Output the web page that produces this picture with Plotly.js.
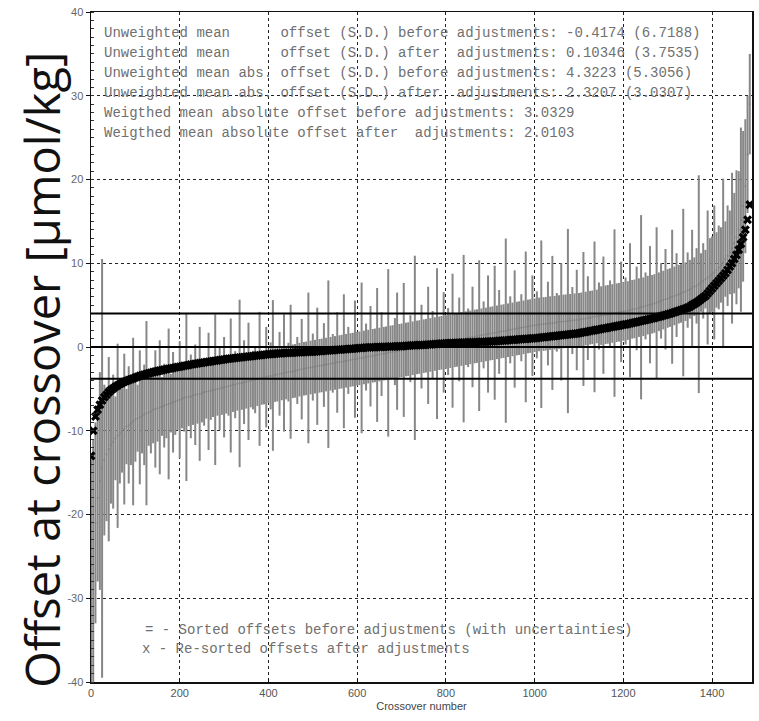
<!DOCTYPE html>
<html>
<head>
<meta charset="utf-8">
<script src="https://cdn.plot.ly/plotly-3.0.1.min.js"></script>
<style>html,body{margin:0;padding:0;background:#fff;}#chart{width:759px;height:721px;}</style>
</head>
<body>
<div id="chart"></div>
<script>
// Crossover numbers are sampled every STEP crossovers (index axis)
const STEP = 5;

// Sorted offsets before adjustments (gray, with uncertainties)
const beforeOffsets = [
  -33,-26,-21,-18,-16,-14.5,-13.5,-12.8,-12.2,-11.7,-11.3,-10.9,-10.6,-10.3,-10.0,-9.8,-9.5,-9.3,-9.1,-8.9,-8.7,
  -8.5,-8.4,-8.2,-8.1,-7.9,-7.8,-7.7,-7.5,-7.4,-7.3,
  -7.2,-7.1,-7.0,-6.9,-6.8,-6.7,-6.6,-6.5,-6.4,-6.3,
  -6.2,-6.1,-6.0,-5.95,-5.9,-5.8,-5.7,-5.65,-5.6,-5.5,
  -5.4,-5.35,-5.3,-5.2,-5.15,-5.1,-5.0,-4.95,-4.9,-4.8,
  -4.75,-4.7,-4.6,-4.55,-4.5,-4.4,-4.35,-4.3,-4.2,-4.15,
  -4.1,-4.0,-3.95,-3.9,-3.85,-3.8,-3.7,-3.65,-3.6,-3.5,
  -3.45,-3.4,-3.35,-3.3,-3.2,-3.15,-3.1,-3.05,-3.0,-2.95,
  -2.9,-2.85,-2.8,-2.7,-2.65,-2.6,-2.55,-2.5,-2.45,-2.4,
  -2.35,-2.3,-2.25,-2.2,-2.15,-2.1,-2.05,-2.0,-1.95,-1.9,
  -1.85,-1.8,-1.75,-1.7,-1.65,-1.6,-1.55,-1.5,-1.45,-1.4,
  -1.35,-1.3,-1.25,-1.2,-1.15,-1.1,-1.05,-1.0,-0.95,-0.9,
  -0.85,-0.8,-0.75,-0.7,-0.65,-0.6,-0.55,-0.5,-0.45,-0.4,
  -0.35,-0.3,-0.25,-0.2,-0.15,-0.1,-0.05,0,0.05,0.1,
  0.15,0.2,0.25,0.3,0.35,0.4,0.45,0.5,0.55,0.6,
  0.65,0.7,0.75,0.8,0.85,0.9,0.95,1.0,1.05,1.1,
  1.15,1.2,1.25,1.3,1.35,1.4,1.45,1.5,1.55,1.6,
  1.65,1.7,1.75,1.8,1.85,1.9,1.95,2.0,2.05,2.1,
  2.15,2.2,2.25,2.3,2.35,2.4,2.45,2.5,2.55,2.6,
  2.65,2.7,2.72,2.75,2.78,2.8,2.85,2.88,2.9,2.95,
  2.98,3.0,3.05,3.08,3.1,3.13,3.16,3.2,3.22,3.25,
  3.3,3.35,3.4,3.45,3.5,3.55,3.6,3.65,3.7,3.75,
  3.8,3.85,3.9,3.95,4.0,4.05,4.1,4.15,4.2,4.25,
  4.3,4.35,4.4,4.5,4.55,4.6,4.7,4.75,4.8,4.9,
  5.0,5.05,5.1,5.2,5.3,5.4,5.5,5.6,5.7,5.8,
  5.9,6.0,6.1,6.2,6.3,6.4,6.5,6.6,6.8,6.9,
  7.0,7.2,7.3,7.5,7.7,7.9,8.1,8.3,8.5,8.7,
  8.9,9.2,9.5,9.8,10.1,10.5,10.9,11.3,11.8,12.4,
  13.1,14.0,15.2,16.8,19.2,23.0,29.0
];

// Uncertainties of the before-adjustment offsets
const uncertainties = [
  20,15,12,10,13,25,9,8,11,7,
  8,5,11,6,5,9,4.5,7,5,10,
  5,4,8,4.5,6,11,4,5,4,7,
  4,8,3.5,5,4,9,3.5,6,4,3.5,
  7,3.5,4,10,3.5,5,3.5,6,3.5,8,
  3.5,4,3.2,7,3.5,3.2,9,3.2,5,3.2,
  6,3.2,3.5,8,3.2,4,3.2,10,3.2,5,
  3.2,7,3.2,3.5,4,3.2,8,3.2,3.2,6,
  3.2,4,9,3.2,3.2,5,3.2,7,3.2,3.5,
  8,3.2,3.2,4,3.2,6,3.2,3.2,9,3.2,
  4,3.2,7,3.2,3.2,5,3.2,10,3.2,3.5,
  3.2,6,3.2,3.2,8,3.2,4,3.2,3.2,7,
  3.2,3.2,9,3.2,4,3.2,6,3.2,3.2,8,
  3.2,5,3.2,3.2,10,3.2,3.2,4,7,3.2,
  3.2,8,3.2,3.2,4,3.2,11,3.2,3.2,5,
  3.2,3.2,7,3.2,4,3.2,9,3.2,3.2,6,
  3.2,4,3.2,8,3.2,3.2,5,3.2,10,3.2,
  3.5,3.2,6,3.2,3.2,9,3.2,4,3.2,7,
  3.2,3.2,8,3.2,5,3.2,3.2,11,3.2,4,
  3.2,7,3.2,3.2,4,3.2,9,3.2,3.2,6,
  3.2,4,3.2,10,3.2,3.2,5,3.2,8,3.2,
  3.5,3.2,7,3.2,3.2,11,3.2,4,3.2,6,
  3.2,3.2,8,3.2,5,3.2,3.2,9,3.2,4,
  3.5,7,3.5,3.5,4,3.5,10,3.5,3.5,6,
  3.5,4,3.5,8,3.5,3.5,5,3.5,11,3.5,
  4,3.5,7,3.5,3.5,9,3.5,4.5,3.5,6,
  3.5,3.5,8,3.5,5,3.5,3.5,10,3.5,4.5,
  3.5,7,3.5,4.5,13,3.5,4.5,3.5,8,4.5,
  4.5,8,4.5,5,4.5,10,4.5,6,5,9,
  6,8,7,11,9,8,7,6
];

// Re-sorted offsets after adjustments (black x)
const afterOffsets = [
  -13,-10,-8.3,-7.5,-6.9,-6.4,-6.0,-5.7,-5.4,-5.15,-4.95,-4.75,-4.6,-4.45,-4.3,-4.15,-4.05,-3.95,-3.85,-3.75,-3.65,
  -3.55,-3.45,-3.37,-3.3,-3.22,-3.15,-3.08,-3.0,-2.94,-2.88,
  -2.82,-2.76,-2.7,-2.65,-2.6,-2.55,-2.5,-2.45,-2.4,-2.35,
  -2.3,-2.25,-2.2,-2.15,-2.1,-2.05,-2.0,-1.96,-1.92,-1.88,
  -1.84,-1.8,-1.76,-1.72,-1.68,-1.64,-1.6,-1.56,-1.52,-1.48,
  -1.44,-1.4,-1.37,-1.34,-1.31,-1.28,-1.25,-1.22,-1.19,-1.16,
  -1.13,-1.1,-1.07,-1.04,-1.01,-0.98,-0.95,-0.92,-0.89,-0.86,
  -0.84,-0.82,-0.8,-0.78,-0.76,-0.74,-0.72,-0.71,-0.7,-0.69,
  -0.67,-0.66,-0.64,-0.63,-0.61,-0.6,-0.59,-0.58,-0.57,-0.56,
  -0.54,-0.52,-0.5,-0.48,-0.46,-0.44,-0.42,-0.4,-0.38,-0.36,
  -0.34,-0.32,-0.3,-0.28,-0.26,-0.24,-0.22,-0.2,-0.18,-0.15,
  -0.13,-0.11,-0.09,-0.07,-0.05,-0.04,-0.03,-0.02,-0.01,0.0,
  0.01,0.02,0.03,0.04,0.05,0.06,0.07,0.08,0.09,0.1,
  0.12,0.14,0.16,0.18,0.2,0.21,0.22,0.23,0.24,0.25,
  0.27,0.29,0.31,0.33,0.35,0.37,0.39,0.41,0.43,0.45,
  0.46,0.47,0.48,0.49,0.5,0.51,0.52,0.53,0.54,0.55,
  0.56,0.57,0.58,0.59,0.6,0.61,0.62,0.63,0.64,0.65,
  0.67,0.69,0.71,0.73,0.75,0.77,0.79,0.81,0.83,0.85,
  0.87,0.89,0.91,0.93,0.95,0.97,0.99,1.01,1.03,1.05,
  1.08,1.11,1.14,1.17,1.2,1.23,1.26,1.29,1.32,1.35,
  1.38,1.41,1.44,1.47,1.5,1.53,1.56,1.59,1.62,1.65,
  1.7,1.75,1.8,1.85,1.9,1.95,2.0,2.05,2.1,2.15,
  2.2,2.25,2.3,2.35,2.4,2.45,2.5,2.55,2.6,2.65,
  2.7,2.75,2.8,2.86,2.92,2.98,3.04,3.1,3.16,3.22,
  3.28,3.34,3.4,3.47,3.54,3.61,3.68,3.75,3.82,3.9,
  3.98,4.06,4.14,4.23,4.32,4.41,4.5,4.6,4.7,4.8,
  5.0,5.15,5.3,5.5,5.7,5.9,6.1,6.4,6.7,7.0,
  7.3,7.6,7.9,8.2,8.5,8.8,9.2,9.6,10.0,10.5,
  11.0,11.6,12.3,13.1,14.0,15.2,17.0
];

// Horizontal reference lines
const refLines = [4.0, 0, -3.8];

// Axis ticks
const xTicks = [0, 200, 400, 600, 800, 1000, 1200, 1400];
const yTicks = [-40, -30, -20, -10, 0, 10, 20, 30, 40];

// Statistics text block
const statLines = [
  "Unweighted mean      offset (S.D.) before adjustments: -0.4174 (6.7188)",
  "Unweighted mean      offset (S.D.) after  adjustments: 0.10346 (3.7535)",
  "Unweighted mean abs. offset (S.D.) before adjustments: 4.3223 (5.3056)",
  "Unweighted mean abs. offset (S.D.) after  adjustments: 2.3207 (3.0307)",
  "Weigthed mean absolute offset before adjustments: 3.0329",
  "Weigthed mean absolute offset after  adjustments: 2.0103"
];
const legendLines = [
  "= - Sorted offsets before adjustments (with uncertainties)",
  "x - Re-sorted offsets after adjustments"
];

const xIdx = beforeOffsets.map((_, i) => i * STEP);

const traces = [
  {
    type: 'scatter', mode: 'markers',
    x: xIdx, y: beforeOffsets,
    marker: {size: 2, color: 'rgb(128,128,128)'},
    error_y: {type: 'data', array: uncertainties, visible: true,
              color: 'rgb(135,135,135)', thickness: 2, width: 0},
    hoverinfo: 'skip', showlegend: false
  },
  {
    type: 'scatter', mode: 'markers',
    x: xIdx, y: afterOffsets,
    marker: {symbol: 'x', size: 8, color: '#000'},
    hoverinfo: 'skip', showlegend: false
  }
];

const mono = 'Liberation Mono, Courier New, monospace';
const annotations = [];
statLines.forEach((t, i) => {
  annotations.push({
    xref: 'paper', yref: 'paper', x: 0.017, y: 0.968 - i * 0.0296,
    xanchor: 'left', yanchor: 'middle', showarrow: false,
    text: t.replace(/ /g, '\u00a0'),
    font: {family: mono, size: 14, color: '#707070'}
  });
});
legendLines.forEach((t, i) => {
  annotations.push({
    xref: 'paper', yref: 'paper', x: 0.078 - i * 0.004, y: 0.078 - i * 0.028,
    xanchor: 'left', yanchor: 'middle', showarrow: false,
    text: t.replace(/ /g, '\u00a0'),
    font: {family: mono, size: 14, color: '#707070'}
  });
});
annotations.push({
  xref: 'paper', yref: 'paper', x: -0.074, y: 0.466,
  xanchor: 'center', yanchor: 'middle', showarrow: false, textangle: -90,
  text: 'Offset at crossover [\u03bcmol/kg]',
  font: {family: 'Open Sans, Noto Sans, sans-serif', size: 47, color: '#111'}
});

const shapes = refLines.map(v => ({
  type: 'line', xref: 'paper', yref: 'y', x0: 0, x1: 1, y0: v, y1: v,
  line: {color: '#000', width: 2}, layer: 'above'
}));

const layout = {
  width: 759, height: 721,
  margin: {l: 91, r: 7, t: 12, b: 39},
  paper_bgcolor: '#fff', plot_bgcolor: '#fff',
  showlegend: false,
  xaxis: {
    range: [0, 1490], tickvals: xTicks, ticktext: xTicks.map(String),
    showgrid: true, gridcolor: '#222', griddash: 'dot', gridwidth: 1,
    zeroline: false, showline: true, linecolor: '#111', linewidth: 1.5, mirror: true,
    ticks: 'inside', ticklen: 4, tickcolor: '#111',
    tickfont: {family: 'Liberation Sans, Arial, sans-serif', size: 11, color: '#555'},
    title: {text: 'Crossover number', standoff: 4,
            font: {family: 'Liberation Sans, Arial, sans-serif', size: 11, color: '#444'}}
  },
  yaxis: {
    range: [-40, 40], tickvals: yTicks, ticktext: yTicks.map(String),
    showgrid: true, gridcolor: '#222', griddash: 'dot', gridwidth: 1,
    zeroline: false, showline: true, linecolor: '#111', linewidth: 1.5, mirror: true,
    ticks: 'outside', ticklen: 4, tickcolor: '#111',
    minor: {dtick: 1, ticks: 'inside', ticklen: 3, tickcolor: '#333', showgrid: false},
    tickfont: {family: 'Liberation Sans, Arial, sans-serif', size: 11, color: '#666'}
  },
  annotations: annotations,
  shapes: shapes
};

Plotly.newPlot('chart', traces, layout, {displayModeBar: false, staticPlot: true});
</script>
</body>
</html>
